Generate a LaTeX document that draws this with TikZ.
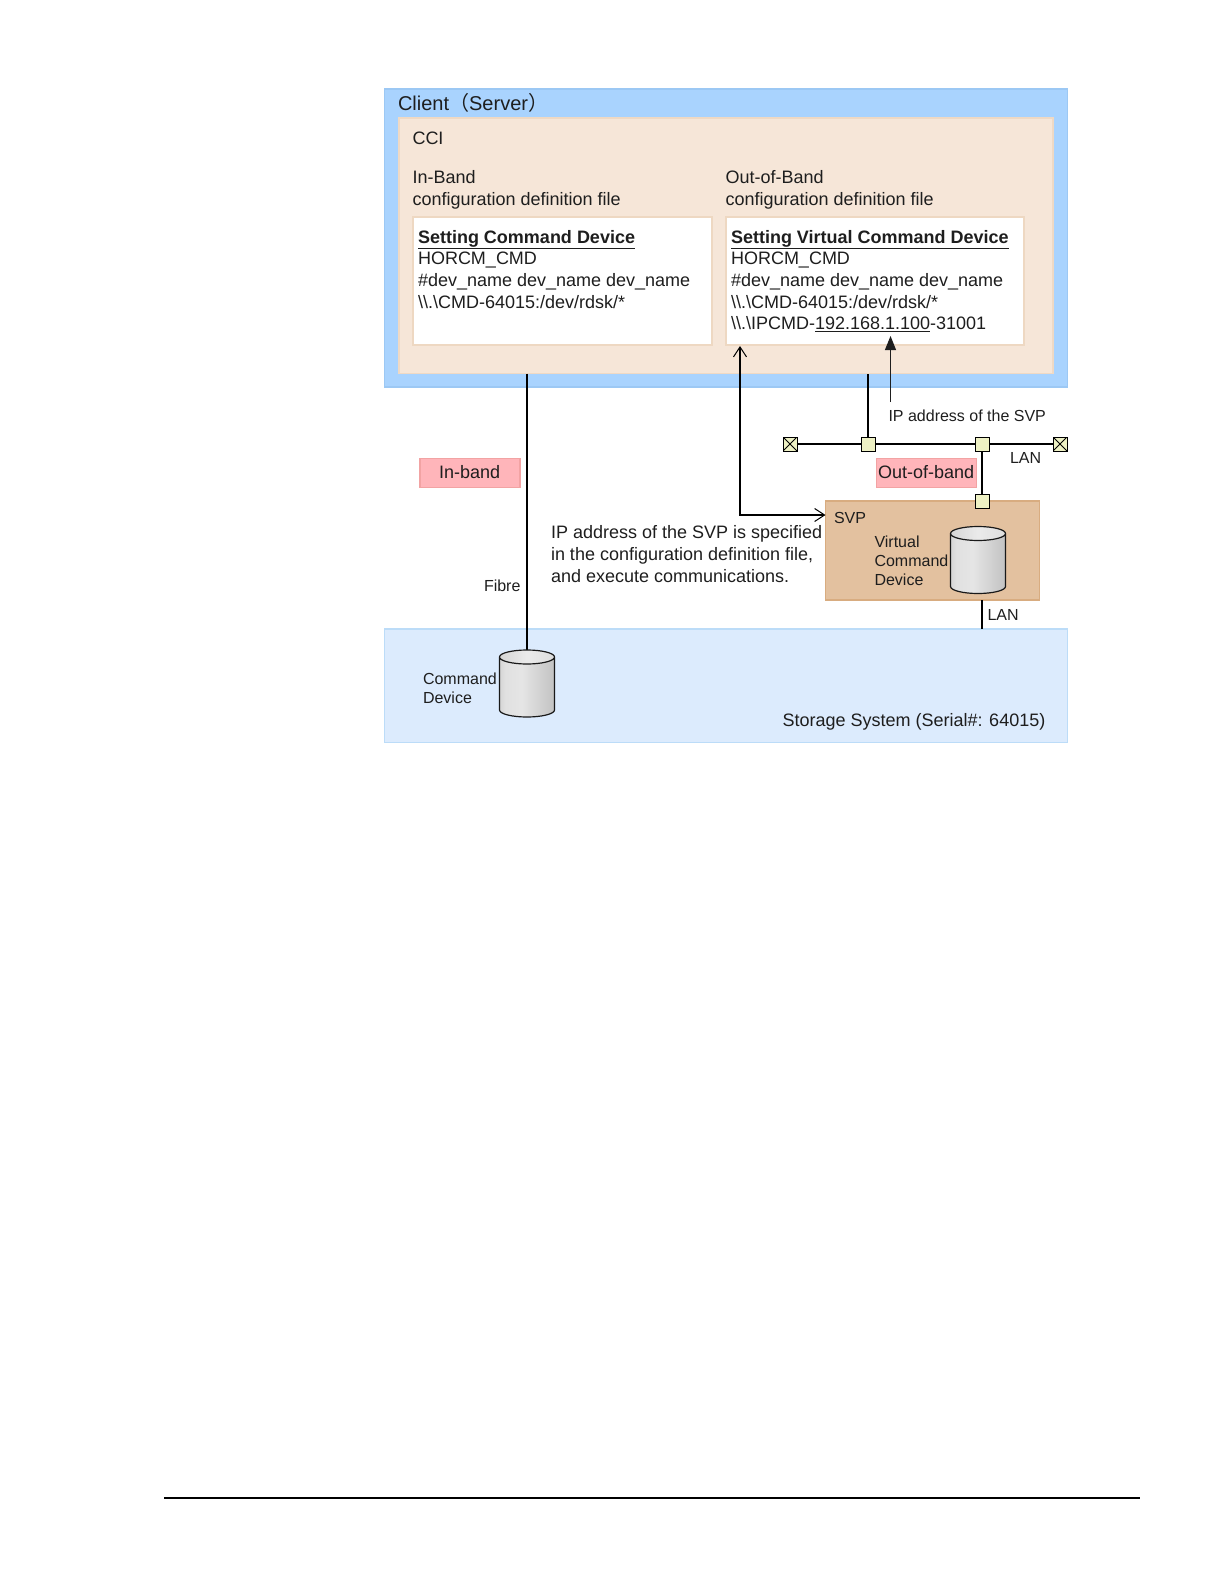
\documentclass[tikz,border=0pt]{standalone}
\usepackage{fontspec}
\setmainfont{Liberation Sans}
\newfontfamily\cjkfont{Noto Sans CJK SC}
\usetikzlibrary{arrows.meta,calc}
\definecolor{clientfill}{HTML}{A9D3FE}
\definecolor{clientline}{HTML}{9CC8F4}
\definecolor{ccifill}{HTML}{F6E6D8}
\definecolor{cciline}{HTML}{EFD9C4}
\definecolor{fileline}{HTML}{EED8C2}
\definecolor{pinkfill}{HTML}{FFB5BA}
\definecolor{pinkline}{HTML}{F2A3A3}
\definecolor{svpfill}{HTML}{E3C19F}
\definecolor{svpline}{HTML}{D8AC80}
\definecolor{storefill}{HTML}{DCEBFD}
\definecolor{storeline}{HTML}{BCDCF8}
\definecolor{portfill}{HTML}{EEF1C4}
\definecolor{inkc}{HTML}{1E1E1E}
\pgfdeclarehorizontalshading{drumbody}{100bp}{
  color(0bp)=(black!38);
  color(30bp)=(black!12);
  color(45bp)=(black!10);
  color(75bp)=(black!24);
  color(100bp)=(black!40)}
\pgfdeclarehorizontalshading{drumtop}{100bp}{
  color(0bp)=(black!24);
  color(50bp)=(black!8);
  color(100bp)=(black!18)}
\tikzset{
  areabox/.style={anchor=north west,rectangle,inner sep=0pt,outer sep=0pt,line width=1.2pt},
  txt/.style={anchor=base west,inner sep=0pt,outer sep=0pt,text=inkc,font=\fontsize{18}{21}\selectfont},
  small/.style={txt,font=\fontsize{16}{19}\selectfont},
  port/.style={draw=black,fill=portfill,line width=1pt,minimum size=14pt,inner sep=0pt,outer sep=0pt},
  term/.style={port,path picture={\draw[line width=1pt] (path picture bounding box.north west)--(path picture bounding box.south east) (path picture bounding box.north east)--(path picture bounding box.south west);}},
  wire/.style={draw=black,line width=1.1pt},
  openarr/.style={wire,{Straight Barb[length=10pt,width=13pt,line width=1pt]}-{Straight Barb[length=10pt,width=13pt,line width=1pt]}},
  solidarr/.style={draw=inkc,line width=1pt,-{Stealth[length=14pt,width=11pt,inset=0pt]}},
  cyl/.style={draw=none,minimum width=#1,inner sep=0pt,outer sep=0pt}
}
% #1 left, #2 top, #3 right, #4 bottom (pixels)
\newcommand{\drumshape}[4]{%
  \pgfmathsetmacro{\cxm}{(#1+#3)/2}
  \pgfmathsetmacro{\rxm}{(#3-#1)/2}
  \path[shading=drumbody]
    (#1,#2+7) -- (#1,#4-7) arc[start angle=180,end angle=0,x radius=\rxm,y radius=7] -- (#3,#2+7) -- cycle;
  \path[shading=drumtop] (\cxm,#2+7) ellipse[x radius=\rxm,y radius=7];
  \draw[line width=1.2pt,draw=black!90,line join=round] (#1,#4-7) -- (#1,#2+7)
     arc[start angle=180,end angle=-180,x radius=\rxm,y radius=7]
     arc[start angle=180,end angle=0,x radius=\rxm,y radius=7] -- (#3,#4-7)
     arc[start angle=0,end angle=180,x radius=\rxm,y radius=7];
}
\begin{document}
\begin{tikzpicture}[x=1pt,y=-1pt]
\useasboundingbox (0,0) rectangle (1224,1584);

% large areas
\node[areabox,draw=clientline,fill=clientfill,minimum width=683pt,minimum height=298pt] (client) at (384.5,89) {};
\node[areabox,draw=cciline,fill=ccifill,minimum width=654pt,minimum height=255.5pt] (cci) at (399,118) {};
\node[areabox,draw=fileline,fill=white,minimum width=299pt,minimum height=128pt] (inbox) at (413,217) {};
\node[areabox,draw=fileline,fill=white,minimum width=298pt,minimum height=128pt] (outbox) at (726,217) {};
\node[areabox,draw=storeline,fill=storefill,minimum width=683pt,minimum height=113.5pt] (storage) at (384.5,629) {};
\node[areabox,draw=svpline,fill=svpfill,minimum width=214pt,minimum height=99pt] (svp) at (825.5,501) {};
\node[areabox,draw=pinkline,fill=pinkfill,minimum width=100pt,minimum height=29pt] (inband) at (420,458.5) {};
\node[areabox,draw=pinkline,fill=pinkfill,minimum width=100pt,minimum height=29pt] (outband) at (876.5,458.5) {};

% cylinders
\node[areabox,cyl=55pt,minimum height=67pt] (cmddev) at (499.5,650) {};
\node[areabox,cyl=55pt,minimum height=67pt] (vcmddev) at (950.5,526.5) {};

% LAN ports
\node[term] (termL) at (790,444) {};
\node[term] (termR) at (1060,444) {};
\node[port] (portA) at (868,444) {};
\node[port] (portB) at (982,444) {};
\node[port] (portC) at (982,501) {};

\coordinate (ipstart) at (890.5,402);
\coordinate (iptip) at (890.5,336);
\coordinate (corner) at (740,515);
\coordinate (arrowtop) at (740,346);

% connectors
\draw[wire] (cmddev.north |- cci.south) -- (cmddev.north);
\draw[wire] (portA.north) -- (portA.north |- cci.south);
\draw[wire] (termL.east) -- (portA.west);
\draw[wire] (portA.east) -- (portB.west);
\draw[wire] (portB.east) -- (termR.west);
\draw[wire] (portB.south) -- (portC.north);
\draw[wire] (portC |- svp.south) -- (portC |- storage.north);
\draw[solidarr] (ipstart) -- (iptip);
\draw[openarr] (arrowtop) -- (corner) -- (corner -| svp.west);

\drumshape{499.5}{650}{554.5}{717}
\drumshape{950.5}{526.5}{1005.5}{593.5}

% texts
\node[txt,font=\fontsize{20}{24}\selectfont] (tclient) at (398,111) {Client{\cjkfont （}Server{\cjkfont ）}};
\node[txt] (tcci) at (412.5,144) {CCI};
\node[txt] (tin1) at (412.5,183) {In-Band};
\node[txt] (tin2) at (412.5,205) {configuration definition file};
\node[txt] (tout1) at (725.5,183) {Out-of-Band};
\node[txt] (tout2) at (725.5,205) {configuration definition file};

\node[txt,font=\fontsize{18}{21}\selectfont\bfseries] (a1) at (418,243) {\underline{Setting Command Device}};
\node[txt] (a2) at (418,264.5) {HORCM\_CMD};
\node[txt] (a3) at (418,286) {\#dev\_name dev\_name dev\_name};
\node[txt] (a4) at (418,308) {\textbackslash\textbackslash.\textbackslash CMD-64015:/dev/rdsk/*};

\node[txt,font=\fontsize{18}{21}\selectfont\bfseries] (b1) at (731,243) {\underline{Setting Virtual Command Device}};
\node[txt] (b2) at (731,264.5) {HORCM\_CMD};
\node[txt] (b3) at (731,286) {\#dev\_name dev\_name dev\_name};
\node[txt] (b4) at (731,308) {\textbackslash\textbackslash.\textbackslash CMD-64015:/dev/rdsk/*};
\node[txt] (b5) at (731,329.5) {\textbackslash\textbackslash.\textbackslash IPCMD-\underline{192.168.1.100}-31001};

\node[small] (tip) at (888.5,421) {IP address of the SVP};
\node[small] (tlan1) at (1010,463) {LAN};
\node[txt] (tinband) at (439,478) {In-band};
\node[txt] (toutband) at (878,478) {Out-of-band};
\node[txt] (p1) at (551,538) {IP address of the SVP is specified};
\node[txt] (p2) at (551,560) {in the configuration definition file,};
\node[txt] (p3) at (551,582) {and execute communications.};
\node[small] (tfibre) at (484,591) {Fibre};
\node[small] (tcd1) at (423,684) {Command};
\node[small] (tcd2) at (423,703) {Device};
\node[small] (tsvp) at (834,523) {SVP};
\node[small] (tv1) at (874.5,547) {Virtual};
\node[small] (tv2) at (874.5,566) {Command};
\node[small] (tv3) at (874.5,585) {Device};
\node[small] (tlan2) at (987.5,620) {LAN};
\node[txt] (tstore) at (782.5,726) {Storage System (Serial\#: 64015)};

% page rule
\coordinate (ruleL) at (164,1498);
\coordinate (ruleR) at (1140,1498);
\draw[draw=black,line width=1.2pt] (ruleL) -- (ruleR);
\end{tikzpicture}
\end{document}
